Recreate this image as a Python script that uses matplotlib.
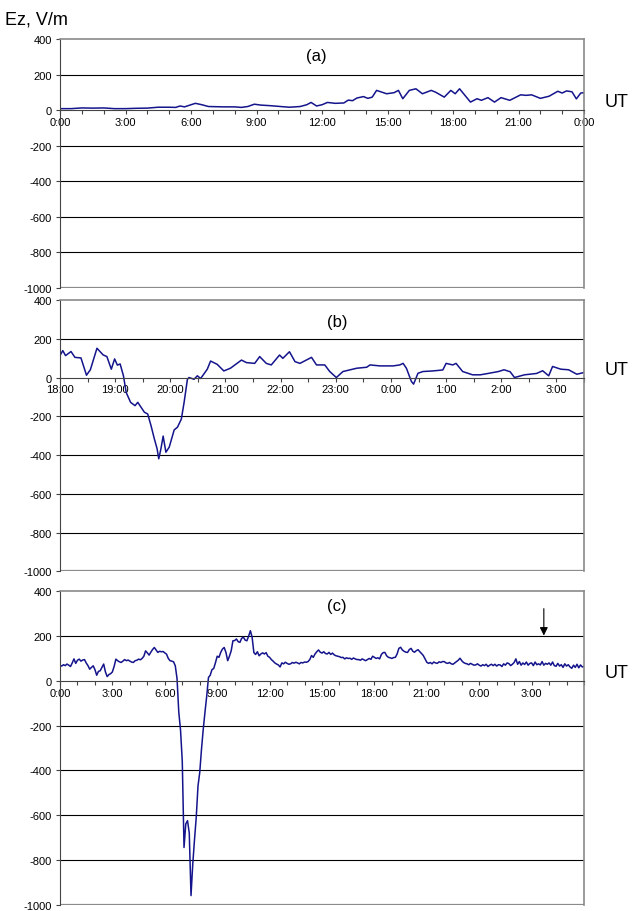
import matplotlib.pyplot as plt
import matplotlib.transforms as mtransforms
import numpy as np
from matplotlib.ticker import FixedLocator, FuncFormatter

plt.rcParams["font.family"] = ["Liberation Sans", "DejaVu Sans"]
plt.rcParams["axes.unicode_minus"] = False

LINE = "#14148c"
FRAME = "#8a8a8a"

# panel (a): hours from 0:00, Ez in V/m
a_hours = [0.0, 0.5, 1.0, 1.5, 2.0, 2.5, 3.0, 3.5, 4.0, 4.5,
           5.0, 5.3, 5.5, 5.7, 6.0, 6.2, 6.5, 6.8, 7.5, 8.0,
           8.3, 8.6, 8.9, 9.2, 9.6, 10.0, 10.5, 11.0, 11.3, 11.5,
           11.75, 12.0, 12.25, 12.6, 13.0, 13.2, 13.4, 13.6, 13.9, 14.1,
           14.3, 14.5, 14.96, 15.3, 15.5, 15.7, 16.0, 16.3, 16.6, 17.0,
           17.2, 17.6, 17.9, 18.1, 18.3, 18.8, 19.1, 19.3, 19.6, 19.9,
           20.2, 20.6, 21.1, 21.35, 21.6, 22.0, 22.4, 22.8, 23.0, 23.2,
           23.45, 23.65, 23.85, 24.0]
a_ez = [10, 10, 14, 13, 14, 10, 10, 12, 13, 18,
        18, 17, 25, 20, 32, 40, 32, 22, 20, 20,
        17, 22, 35, 30, 27, 23, 18, 22, 32, 45,
        25, 32, 45, 40, 42, 58, 55, 70, 78, 68,
        75, 113, 94, 100, 113, 66, 113, 122, 94, 113,
        103, 75, 113, 94, 122, 47, 66, 57, 72, 47,
        72, 57, 88, 85, 88, 68, 80, 108, 98, 110,
        105, 65, 98, 100]

# panel (b): hours counted from 0:00 of the first day (18:00 .. 3:30)
b_hours = [18.0, 18.05, 18.1, 18.2, 18.27, 18.38, 18.48, 18.55, 18.67, 18.78,
           18.85, 18.93, 18.99, 19.04, 19.09, 19.15, 19.2, 19.28, 19.36, 19.41,
           19.53, 19.59, 19.65, 19.71, 19.76, 19.79, 19.83, 19.87, 19.92, 19.98,
           20.07, 20.13, 20.2, 20.25, 20.31, 20.34, 20.43, 20.49, 20.55, 20.67,
           20.73, 20.85, 20.97, 21.09, 21.29, 21.38, 21.53, 21.62, 21.74, 21.83,
           21.98, 22.04, 22.16, 22.26, 22.35, 22.56, 22.65, 22.8, 22.89, 23.01,
           23.13, 23.38, 23.56, 23.62, 23.8, 24.04, 24.16, 24.22, 24.28, 24.37,
           24.41, 24.49, 24.58, 24.76, 24.94, 25.0, 25.12, 25.18, 25.3, 25.48,
           25.62, 25.76, 25.95, 26.05, 26.16, 26.24, 26.42, 26.64, 26.75, 26.86,
           26.93, 27.08, 27.22, 27.37, 27.5]
b_ez = [113, 139, 113, 134, 104, 101, 12, 40, 151, 117,
        108, 43, 96, 64, 70, 9, -77, -128, -145, -128,
        -179, -188, -248, -316, -367, -419, -367, -302, -385, -359,
        -270, -256, -214, -128, -9, 0, -9, 9, -5, 43,
        85, 68, 34, 48, 90, 77, 73, 108, 73, 65,
        116, 99, 133, 82, 73, 104, 65, 65, 31, 0,
        31, 48, 53, 65, 60, 60, 65, 73, 48, -20,
        -34, 22, 31, 34, 39, 73, 65, 73, 31, 14,
        14, 21, 31, 40, 30, 0, 14, 21, 35, 9,
        57, 43, 40, 17, 26]

# panel (c): one value every 0.1 h from 0:00, one row per hour
c_step = 0.1
c_ez = [
    70, 66, 72, 68, 75, 70, 64, 80, 98, 78,
    92, 97, 88, 93, 95, 80, 68, 52, 60, 67,
    50, 25, 42, 45, 60, 75, 40, 19, 28, 32,
    40, 65, 97, 90, 85, 82, 88, 95, 90, 93,
    88, 84, 82, 90, 92, 97, 94, 100, 110, 134,
    125, 115, 128, 140, 149, 138, 127, 132, 130, 131,
    125, 119, 100, 90, 88, 85, 67, 10, -140, -220,
    -360, -745, -640, -625, -680, -960, -820, -710, -610, -470,
    -410, -306, -217, -140, -68, 15, 25, 50, 55, 81,
    110, 105, 127, 142, 149, 127, 90, 110, 134, 179,
    180, 187, 175, 172, 190, 195, 182, 179, 200, 224,
    194, 126, 118, 130, 112, 120, 125, 120, 126, 110,
    105, 95, 88, 80, 75, 71, 62, 80, 76, 83,
    78, 74, 76, 82, 79, 83, 80, 76, 82, 80,
    84, 83, 86, 95, 113, 105, 120, 130, 138, 128,
    124, 130, 122, 120, 127, 118, 124, 116, 112, 110,
    108, 104, 105, 98, 103, 100, 101, 96, 102, 98,
    95, 95, 92, 98, 94, 90, 95, 100, 96, 110,
    105, 100, 103, 98, 118, 126, 127, 112, 105, 103,
    100, 104, 105, 120, 145, 150, 138, 132, 128, 127,
    140, 145, 132, 128, 135, 139, 130, 122, 113, 98,
    83, 78, 82, 76, 84, 80, 78, 85, 82, 86,
    86, 80, 78, 82, 76, 74, 80, 86, 92, 101,
    90, 82, 78, 76, 72, 78, 74, 70, 71, 76,
    70, 66, 72, 68, 74, 64, 70, 74, 68, 74,
    66, 72, 71, 64, 76, 70, 80, 77, 68, 74,
    82, 98, 74, 86, 70, 80, 73, 84, 70, 78,
    80, 68, 84, 72, 76, 71, 86, 70, 78, 74,
    80, 70, 84, 68, 65, 78, 66, 72, 60, 76,
    66, 72, 62, 56, 70, 60, 74, 58, 71, 62,
    64,
]
c_hours = np.arange(len(c_ez)) * c_step

y_ticks = list(range(-1000, 401, 200))


def hhmm(h, pos=None):
    h = h % 24
    hh = int(h)
    mm = int(round((h - hh) * 60))
    return f"{hh}:{mm:02d}"


def setup(ax, x0, x1, major, minor, tag, tag_x, tag_y):
    ax.set_xlim(x0, x1)
    ax.set_ylim(-1000, 400)
    ax.set_axisbelow(True)
    ax.set_yticks(y_ticks)
    ax.xaxis.set_major_locator(FixedLocator(major))
    ax.xaxis.set_minor_locator(FixedLocator(minor))
    ax.xaxis.set_major_formatter(FuncFormatter(hhmm))
    ax.spines["bottom"].set_position(("data", 0))
    ax.spines["bottom"].set_color("#444444")
    ax.spines["left"].set_color("#444444")
    for side in ("top", "right"):
        ax.spines[side].set_color(FRAME)
        ax.spines[side].set_linewidth(1.2)
    ax.axhline(-1000, color=FRAME, lw=1.6, zorder=1)
    for y in y_ticks:
        if y not in (-1000, 0, 400):
            ax.axhline(y, color="black", lw=0.8, zorder=1)
    ax.tick_params(axis="x", which="both", direction="out", length=3,
                   width=0.8, color="#444444", labelsize=8, pad=2)
    ax.tick_params(axis="y", direction="out", length=3, width=0.8,
                   color="#444444", labelsize=8, pad=3)
    ax.text(tag_x, tag_y, tag, transform=mtransforms.blended_transform_factory(
        ax.transAxes, ax.transData), ha="center", va="center", fontsize=12)
    ax.text(1.04, 0, "UT", transform=mtransforms.blended_transform_factory(
        ax.transAxes, ax.transData), ha="left", va="bottom", fontsize=13,
        clip_on=False)


fig = plt.figure(figsize=(6.33, 9.12), dpi=100)
ax_a = fig.add_axes([0.0948, 0.6834, 0.8278, 0.2722])
ax_b = fig.add_axes([0.0948, 0.3723, 0.8278, 0.2977])
ax_c = fig.add_axes([0.0948, 0.0071, 0.8278, 0.3434])

ax_a.plot(a_hours, a_ez, color=LINE, lw=1.1)
setup(ax_a, 0, 24, np.arange(0, 24.1, 3), np.arange(0, 24.1, 1),
      "(a)", 0.49, 310)

ax_b.plot(b_hours, b_ez, color=LINE, lw=1.1)
setup(ax_b, 18, 27.5, np.arange(18, 27.6, 1), np.arange(18, 27.6, 0.5),
      "(b)", 0.53, 287)

ax_c.plot(c_hours, c_ez, color=LINE, lw=1.1)
setup(ax_c, 0, 30, np.arange(0, 28, 3), np.arange(0, 30.1, 1),
      "(c)", 0.528, 337)
ax_c.annotate("", xy=(27.7, 190), xytext=(27.7, 335),
              arrowprops=dict(arrowstyle="-|>", color="black", lw=0.8,
                              mutation_scale=12))

fig.text(0.008, 0.978, "Ez, V/m", ha="left", va="center", fontsize=13)

fig.savefig("out.png", dpi=100)
